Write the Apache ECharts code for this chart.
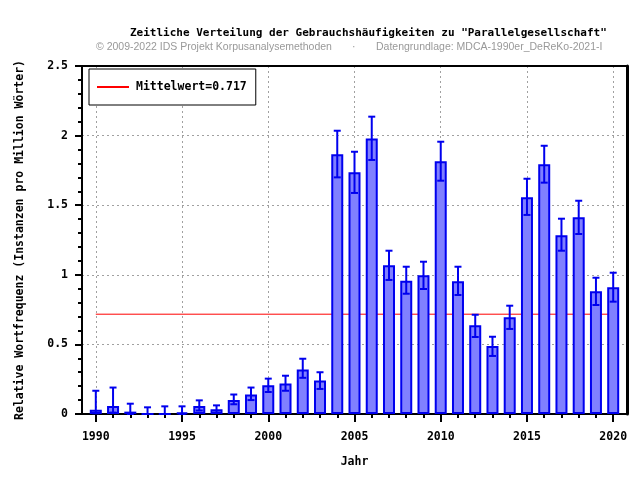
<!DOCTYPE html>
<html>
<head>
<meta charset="utf-8">
<script src="https://cdn.jsdelivr.net/npm/echarts@6/dist/echarts.min.js"></script>
<style>html,body{margin:0;padding:0;background:#fff}#c{width:640px;height:480px}</style>
</head>
<body>
<div id="c"></div>
<script>
// ---- data ----
const years = [1990,1991,1992,1993,1994,1995,1996,1997,1998,1999,2000,2001,2002,2003,2004,2005,2006,2007,2008,2009,2010,2011,2012,2013,2014,2015,2016,2017,2018,2019,2020];
const values = [0.030,0.057,0.017,0.000,0.000,0.010,0.057,0.034,0.100,0.140,0.206,0.220,0.320,0.240,1.866,1.736,1.980,1.068,0.958,0.996,1.815,0.953,0.637,0.488,0.695,1.557,1.794,1.284,1.413,0.881,0.910];
const errLow = [0.005,0.010,0.000,0.000,0.000,0.000,0.025,0.010,0.070,0.100,0.158,0.167,0.260,0.180,1.700,1.588,1.825,0.963,0.864,0.898,1.676,0.855,0.553,0.417,0.611,1.430,1.662,1.173,1.293,0.783,0.807];
const errHigh = [0.167,0.190,0.074,0.048,0.055,0.055,0.098,0.062,0.140,0.190,0.254,0.275,0.397,0.300,2.035,1.884,2.136,1.173,1.058,1.094,1.956,1.058,0.713,0.555,0.778,1.690,1.927,1.403,1.532,0.979,1.015];
const meanValue = 0.717;
const majorYearTicks = [1990,1995,2000,2005,2010,2015,2020];

const titleText = 'Zeitliche Verteilung der Gebrauchshäufigkeiten zu "Parallelgesellschaft"';
const subLeft = '© 2009-2022 IDS Projekt Korpusanalysemethoden';
const subRight = 'Datengrundlage: MDCA-1990er_DeReKo-2021-I';
const yName = 'Relative Wortfrequenz (Instanzen pro Million Wörter)';
const xName = 'Jahr';
const legendName = 'Mittelwert=' + meanValue;

// ---- chart ----
const MONO = '"DejaVu Sans Mono", monospace';
const SANS = '"Liberation Sans", Arial, sans-serif';
const BLUE = '#0000ee';
const xMin = 1989.2, xMax = 2020.8;

const chart = echarts.init(document.getElementById('c'), null, {renderer: 'canvas'});
const barData = years.map((y, i) => [y, values[i]]);
const errData = years.map((y, i) => [y, errLow[i], errHigh[i]]);

const gridLine = {show: true, lineStyle: {color: '#a0a0a0', width: 1, type: [2, 3]}};
const subStyle = {fontFamily: SANS, fontWeight: 'normal', fontSize: 10.5, color: '#999999'};

chart.setOption({
  animation: false,
  backgroundColor: '#fff',
  title: [
    {text: titleText, left: 130, top: 28, padding: 0, textStyle: {fontFamily: MONO, fontWeight: 'bold', fontSize: 11, color: '#000'}},
    {text: subLeft, left: 96, top: 42, padding: 0, textStyle: subStyle},
    {text: '·', left: 352, top: 42, padding: 0, textStyle: subStyle},
    {text: subRight, left: 376, top: 42, padding: 0, textStyle: subStyle}
  ],
  legend: {
    left: 89, top: 69,
    orient: 'vertical',
    data: [legendName],
    itemWidth: 32, itemHeight: 14, itemGap: 7,
    padding: [12, 9, 12, 7],
    backgroundColor: '#fff',
    borderColor: '#000', borderWidth: 1, borderRadius: 0,
    itemStyle: {opacity: 0},
    textStyle: {fontFamily: MONO, fontWeight: 'bold', fontSize: 11.5, color: '#000', padding: [0,0,0,2]}
  },
  grid: {left: 82, right: 13, top: 66, bottom: 66, containLabel: false},
  xAxis: [
    {
      type: 'value', position: 'bottom', min: xMin, max: xMax,
      name: xName, nameLocation: 'middle', nameGap: 42,
      nameTextStyle: {fontFamily: MONO, fontWeight: 'bold', fontSize: 11.5, color: '#000'},
      axisLine: {show: true, onZero: false, lineStyle: {color: '#000', width: 2}},
      axisTick: {show: true, length: 8, customValues: majorYearTicks, lineStyle: {color: '#000', width: 2}},
      axisLabel: {show: true, customValues: majorYearTicks, margin: 17, formatter: v => String(Math.round(v)),
                  fontFamily: MONO, fontWeight: 'bold', fontSize: 11.5, color: '#000'},
      splitLine: gridLine
    },
    {
      type: 'value', position: 'bottom', min: xMin, max: xMax,
      axisLine: {show: false},
      axisTick: {show: true, length: 4, customValues: years, lineStyle: {color: '#000', width: 2}},
      axisLabel: {show: false},
      splitLine: {show: false}
    },
    {
      type: 'value', position: 'top', min: xMin, max: xMax,
      axisLine: {show: true, onZero: false, lineStyle: {color: '#000', width: 2}},
      axisTick: {show: false}, axisLabel: {show: false}, splitLine: {show: false}
    }
  ],
  yAxis: [
    {
      type: 'value', position: 'left', min: 0, max: 2.5, interval: 0.5,
      name: yName, nameLocation: 'middle', nameGap: 56,
      nameTextStyle: {fontFamily: MONO, fontWeight: 'bold', fontSize: 11.5, color: '#000'},
      axisLine: {show: true, onZero: false, lineStyle: {color: '#000', width: 2}},
      axisTick: {show: true, length: 7, lineStyle: {color: '#000', width: 2}},
      minorTick: {show: true, splitNumber: 5, length: 4, lineStyle: {color: '#000', width: 2}},
      axisLabel: {margin: 14, fontFamily: MONO, fontWeight: 'bold', fontSize: 11.5, color: '#000'},
      splitLine: gridLine
    },
    {
      type: 'value', position: 'right', min: 0, max: 2.5, interval: 0.5,
      axisLine: {show: true, onZero: false, lineStyle: {color: '#000', width: 3}},
      axisTick: {show: false}, axisLabel: {show: false}, splitLine: {show: false}
    }
  ],
  series: [
    {
      name: legendName, type: 'line', xAxisIndex: 0, yAxisIndex: 0,
      data: [[years[0], meanValue], [years[years.length - 1], meanValue]],
      symbol: 'none', lineStyle: {color: '#ff0000', width: 1}, itemStyle: {color: '#ff0000'},
      z: 1, silent: true
    },
    {
      name: 'Frequenz', type: 'bar', xAxisIndex: 0, yAxisIndex: 0,
      data: barData, barWidth: 12,
      itemStyle: {color: '#8080ff', borderColor: BLUE, borderWidth: 2},
      z: 2
    },
    {
      name: 'Fehler', type: 'custom', xAxisIndex: 0, yAxisIndex: 0,
      data: errData, encode: {x: 0, y: [1, 2]}, z: 3,
      renderItem: function (params, api) {
        const x = api.value(0), lo = api.value(1), hi = api.value(2);
        const a = api.coord([x, lo]), b = api.coord([x, hi]);
        const hw = 3.5;
        const st = {stroke: BLUE, lineWidth: 2};
        return {type: 'group', children: [
          {type: 'line', shape: {x1: a[0], y1: a[1], x2: b[0], y2: b[1]}, style: st},
          {type: 'line', shape: {x1: a[0] - hw, y1: a[1], x2: a[0] + hw, y2: a[1]}, style: st},
          {type: 'line', shape: {x1: b[0] - hw, y1: b[1], x2: b[0] + hw, y2: b[1]}, style: st}
        ]};
      }
    }
  ]
});
</script>
</body>
</html>
